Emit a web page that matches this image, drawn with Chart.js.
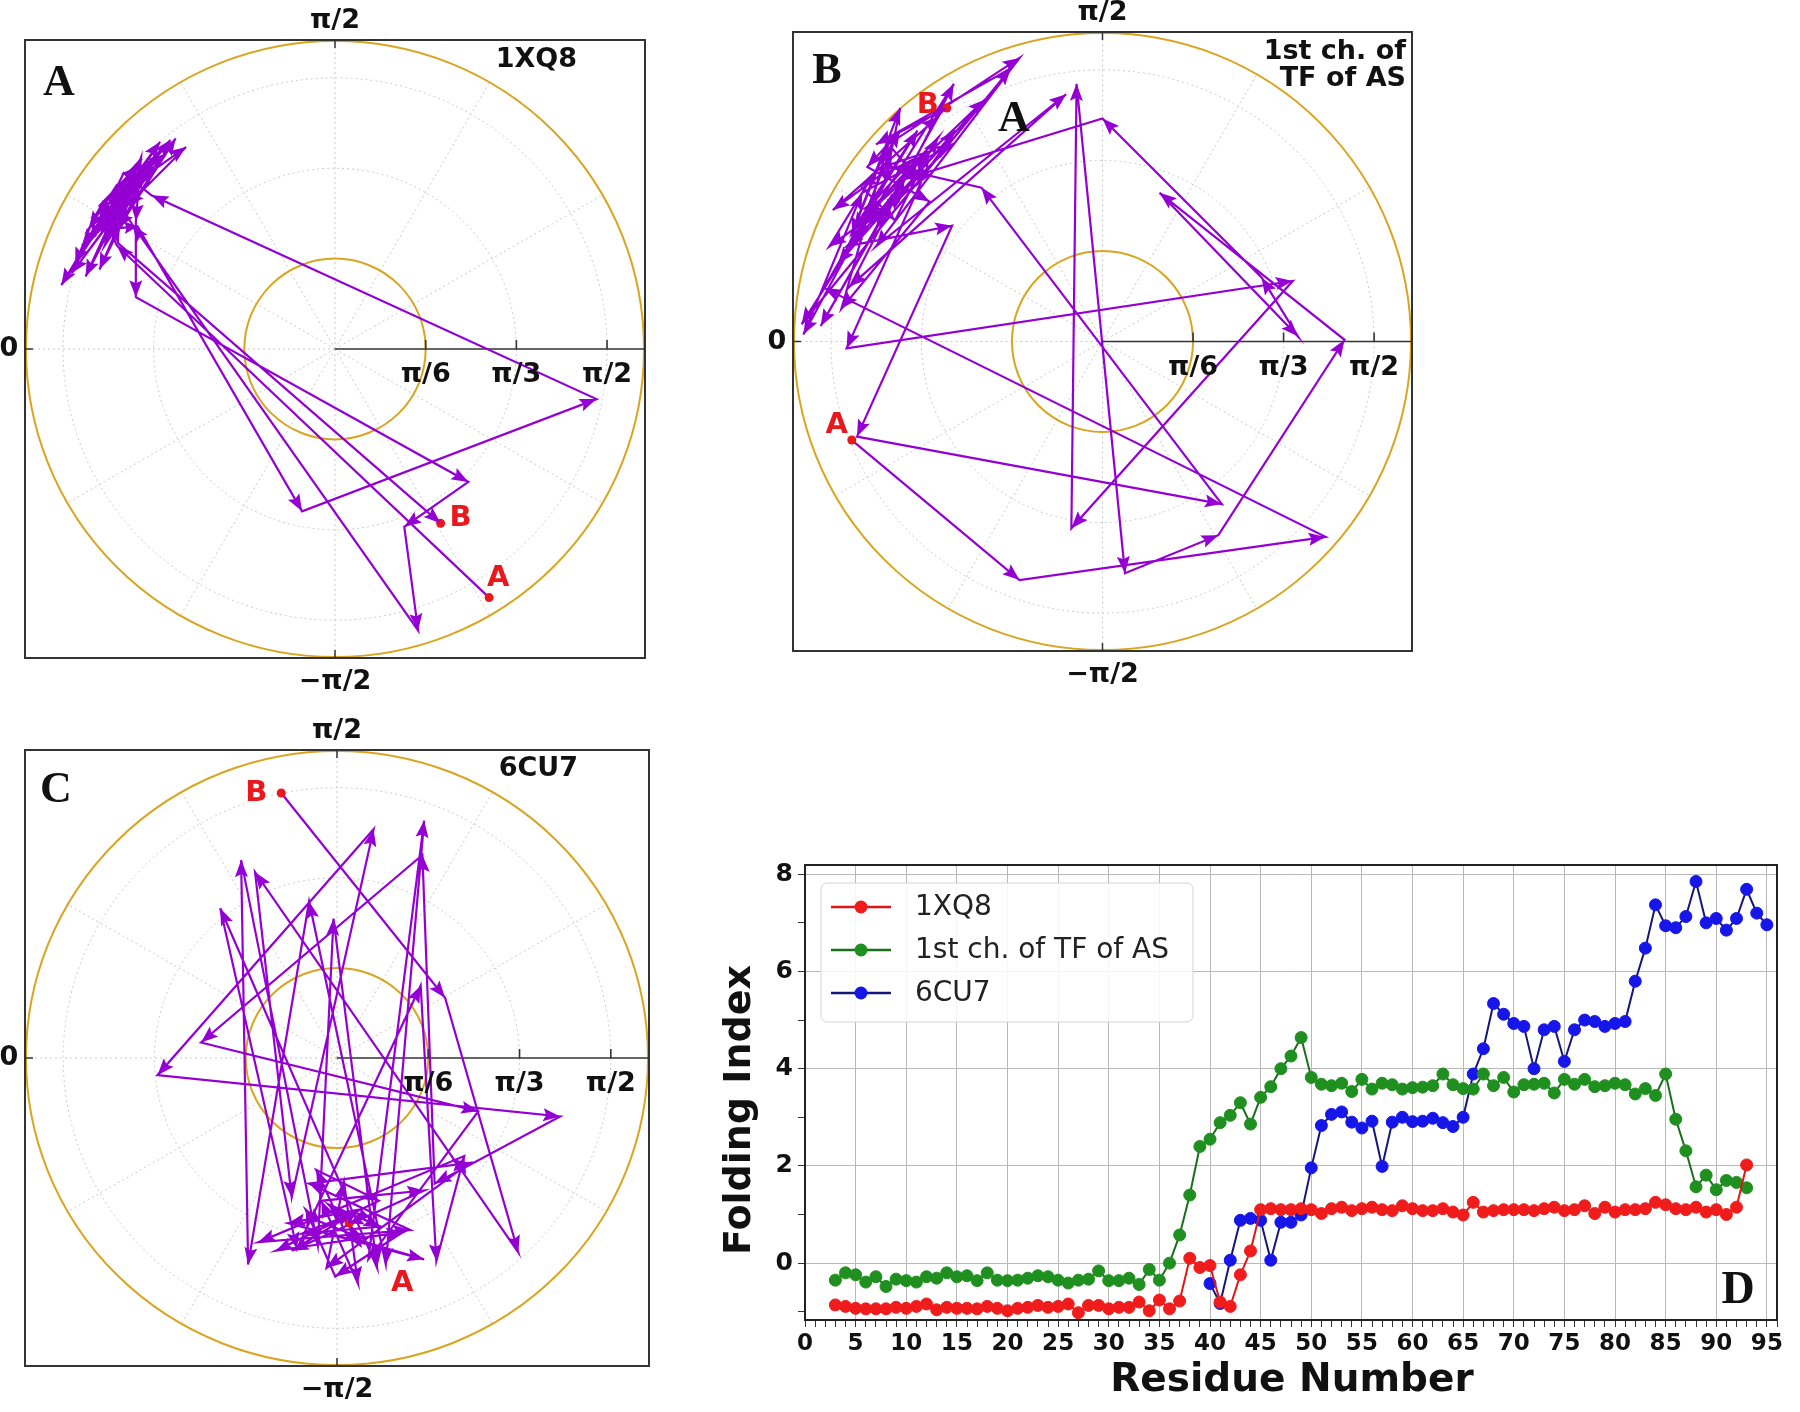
<!DOCTYPE html>
<html><head><meta charset="utf-8">
<script src="https://cdn.jsdelivr.net/npm/chart.js@4.4.1/dist/chart.umd.min.js"></script>
<style>
html,body{margin:0;padding:0;background:#fff;}
body{width:1800px;height:1412px;position:relative;overflow:hidden;}
canvas{position:absolute;}
</style></head><body>
<canvas id="pA" width="700" height="710" style="left:0px;top:0px"></canvas>
<canvas id="pB" width="700" height="700" style="left:750px;top:0px"></canvas>
<canvas id="pC" width="700" height="700" style="left:0px;top:712px"></canvas>
<canvas id="pD" width="1100" height="572" style="left:700px;top:840px"></canvas>
<script>
// ---------------- DATA ----------------
// polar panels: radial limit and radial tick values (radians)
const R_MAX = 1.79;
const radialTicks = [Math.PI/6, Math.PI/3, Math.PI/2];
const radialTickLabels = ['π/6', 'π/3', 'π/2'];

// Panel A (1XQ8) trajectory, cartesian components of polar points (radians)
const trajA_x = [0.89,-1.26,-1.36,-1.14,-1.33,-0.95,-1.22,-1.46,-1.09,-1.39,-1.58,-1.28,-1.01,-1.24,-1.44,-1.17,-0.86,-1.20,-1.36,-1.07,-1.30,-1.12,-1.15,-1.15,0.77,0.40,0.48,-1.17,-1.28,-0.98,-1.39,-1.50,-1.19,-1.33,-0.92,-1.25,-1.14,-0.19,1.51,-1.06,-1.22,-1.41,-1.04,-1.29,-1.52,-1.22,-1.30,-1.10,-1.35,-1.18,-1.28,-1.05,-1.38,-1.15,-1.26,-1.42,-1.12,-1.32,-1.25,0.61];
const trajA_y = [-1.44,0.60,0.83,1.06,0.74,1.21,0.93,0.60,1.02,0.69,0.37,0.83,1.20,0.86,0.42,0.95,1.17,0.83,0.46,1.06,0.65,1.11,0.74,0.30,-0.77,-1.03,-1.63,0.72,0.90,1.13,0.77,0.49,1.00,0.60,1.22,0.70,0.71,-0.94,-0.29,0.89,1.02,0.63,1.11,0.75,0.44,0.84,0.80,1.00,0.68,0.98,0.72,1.05,0.78,0.88,0.95,0.70,0.97,0.86,0.61,-1.01];

// Panel B (1st ch. of TF of AS)
const trajB_x = [-1.45,-0.48,1.29,-1.61,-1.31,-1.07,-1.44,-1.17,-1.26,-1.73,-1.39,-0.87,-1.48,-0.87,-1.42,0.69,-0.70,-1.22,-1.56,-0.95,-1.31,-1.63,-1.14,-0.68,-1.26,-1.35,-1.10,-1.40,-1.20,-1.00,-1.30,-1.45,-1.15,-0.95,-1.38,-1.22,-1.05,-1.48,1.10,-0.18,-0.15,0.13,0.67,1.40,0.33,1.13,0.92,0.00,-1.14,-1.39,-1.02,-1.53,-0.85,-1.07,-1.58,-1.17,-1.36,-1.00,-1.51,-1.24,-0.48,-1.31,-0.21,-1.46,-0.86,-1.74,-0.53,-1.31,-0.90];
const trajB_y = [-0.57,-1.38,-1.13,0.31,0.83,1.22,0.65,1.35,0.91,0.04,0.86,1.14,0.55,0.67,-0.55,-0.94,0.89,1.01,0.76,1.30,0.65,0.09,0.96,1.40,0.76,0.78,1.05,0.90,0.70,1.10,1.00,0.62,0.85,1.18,0.72,1.12,0.92,-0.04,0.35,-1.08,1.49,-1.34,-1.12,0.01,0.86,0.03,0.37,1.29,0.94,0.71,1.09,0.45,1.22,0.91,0.55,1.22,1.01,0.81,0.19,1.14,1.64,0.55,1.43,0.32,1.49,0.10,1.58,1.14,1.35];

// Panel C (6CU7)
const trajC_x = [-0.32,0.62,1.04,-0.47,-0.26,0.21,-1.03,1.28,0.56,0.49,-0.78,0.81,0.18,0.50,0.28,-0.16,-0.51,-0.55,-0.11,-0.02,0.23,-0.67,-0.23,0.48,0.57,0.73,-0.45,0.42,-0.16,0.76,-0.06,0.04,0.12,-0.09,0.50,-0.26,0.13,-0.28,0.50,0.06,-0.12,0.24,-0.35,0.38,-0.01,-0.18,-0.10,0.15,-0.05,0.25,-0.20,0.10,0.18,0.07];
const trajC_y = [1.54,0.35,-1.13,1.08,-0.81,1.33,-0.10,-0.34,-0.73,1.18,0.09,-0.31,-1.17,1.38,-1.20,0.91,-1.20,1.15,-1.09,0.81,-1.22,0.87,-1.11,0.42,-1.18,-0.57,-1.07,-1.00,-0.73,-0.61,-1.22,-0.72,-1.31,-0.83,-0.77,-1.12,-0.88,-0.96,-1.17,-1.04,-0.65,-0.83,-1.12,-1.01,-1.27,-0.88,-0.95,-1.05,-0.85,-0.98,-1.02,-0.90,-0.92,-0.96];

// Panel D: folding index per residue
const residues1XQ8 = [3,4,5,6,7,8,9,10,11,12,13,14,15,16,17,18,19,20,21,22,23,24,25,26,27,28,29,30,31,32,33,34,35,36,37,38,39,40,41,42,43,44,45,46,47,48,49,50,51,52,53,54,55,56,57,58,59,60,61,62,63,64,65,66,67,68,69,70,71,72,73,74,75,76,77,78,79,80,81,82,83,84,85,86,87,88,89,90,91,92,93];
const fi1XQ8 = [-0.86,-0.89,-0.93,-0.94,-0.94,-0.94,-0.91,-0.93,-0.89,-0.84,-0.96,-0.91,-0.93,-0.93,-0.94,-0.89,-0.93,-0.98,-0.93,-0.91,-0.87,-0.91,-0.89,-0.84,-1.02,-0.87,-0.87,-0.94,-0.91,-0.91,-0.80,-0.98,-0.76,-0.94,-0.78,0.10,-0.09,-0.05,-0.80,-0.89,-0.24,0.25,1.10,1.12,1.10,1.10,1.12,1.10,1.02,1.12,1.15,1.08,1.12,1.15,1.10,1.08,1.18,1.12,1.08,1.08,1.12,1.05,0.99,1.25,1.05,1.08,1.10,1.10,1.10,1.08,1.12,1.15,1.08,1.10,1.18,1.02,1.15,1.05,1.10,1.10,1.12,1.25,1.20,1.12,1.10,1.15,1.05,1.10,1.00,1.15,2.02];
const residuesTFAS = [3,4,5,6,7,8,9,10,11,12,13,14,15,16,17,18,19,20,21,22,23,24,25,26,27,28,29,30,31,32,33,34,35,36,37,38,39,40,41,42,43,44,45,46,47,48,49,50,51,52,53,54,55,56,57,58,59,60,61,62,63,64,65,66,67,68,69,70,71,72,73,74,75,76,77,78,79,80,81,82,83,84,85,86,87,88,89,90,91,92,93];
const fiTFAS = [-0.35,-0.20,-0.24,-0.39,-0.28,-0.48,-0.33,-0.36,-0.39,-0.28,-0.31,-0.20,-0.28,-0.26,-0.36,-0.20,-0.35,-0.36,-0.35,-0.31,-0.26,-0.28,-0.35,-0.41,-0.35,-0.33,-0.16,-0.36,-0.36,-0.31,-0.44,-0.13,-0.35,0.00,0.58,1.40,2.40,2.55,2.89,3.04,3.30,2.86,3.41,3.63,4.00,4.26,4.64,3.82,3.68,3.65,3.70,3.53,3.78,3.58,3.70,3.67,3.58,3.61,3.62,3.65,3.89,3.67,3.59,3.58,3.89,3.65,3.82,3.52,3.67,3.68,3.70,3.50,3.78,3.68,3.78,3.63,3.65,3.70,3.67,3.48,3.59,3.45,3.89,2.96,2.31,1.57,1.81,1.51,1.70,1.66,1.55];
const residues6CU7 = [40,41,42,43,44,45,46,47,48,49,50,51,52,53,54,55,56,57,58,59,60,61,62,63,64,65,66,67,68,69,70,71,72,73,74,75,76,77,78,79,80,81,82,83,84,85,86,87,88,89,90,91,92,93,94,95];
const fi6CU7 = [-0.42,-0.83,0.06,0.88,0.92,0.88,0.06,0.84,0.84,0.99,1.96,2.83,3.06,3.11,2.90,2.78,2.92,1.99,2.90,3.00,2.91,2.92,2.98,2.89,2.81,3.00,3.89,4.41,5.34,5.12,4.93,4.87,4.00,4.80,4.87,4.15,4.80,5.00,4.97,4.87,4.93,4.97,5.80,6.48,7.37,6.94,6.90,7.13,7.85,7.00,7.09,6.85,7.09,7.69,7.20,6.96];
const seriesNames = ['1XQ8', '1st ch. of TF of AS', '6CU7'];

// ---------------- STYLE ----------------
const FONT = '"DejaVu Sans", "Liberation Sans", sans-serif';
const SERIF = '"Liberation Serif", "DejaVu Serif", serif';
const PURPLE = '#9400D3';
const GOLD = '#D9A521';
const RED = '#e8181c';

function arrowHead(ctx, x0, y0, x1, y1, len, hw) {
  const dx = x1 - x0, dy = y1 - y0, d = Math.hypot(dx, dy);
  if (d < 2) return;
  const ux = dx / d, uy = dy / d;
  const L = Math.min(len, d * 0.7);
  const bx = x1 - ux * L, by = y1 - uy * L;
  const nx = x1 - ux * L * 0.82, ny = y1 - uy * L * 0.82;
  ctx.beginPath();
  ctx.moveTo(x1, y1);
  ctx.lineTo(bx - uy * hw, by + ux * hw);
  ctx.lineTo(nx, ny);
  ctx.lineTo(bx + uy * hw, by - ux * hw);
  ctx.closePath();
  ctx.fill();
}

function polarDecor(o) {
  return {
    id: 'polarDecor',
    beforeDatasetsDraw(chart) {
      const ctx = chart.ctx, a = chart.chartArea, sx = chart.scales.x, sy = chart.scales.y;
      const cx = sx.getPixelForValue(0), cy = sy.getPixelForValue(0);
      const rx = r => sx.getPixelForValue(r) - cx, ry = r => cy - sy.getPixelForValue(r);
      ctx.save();
      ctx.strokeStyle = '#c9c9c9'; ctx.lineWidth = 1; ctx.setLineDash([2, 3]);
      radialTicks.forEach(r => { ctx.beginPath(); ctx.ellipse(cx, cy, rx(r), ry(r), 0, 0, Math.PI * 2); ctx.stroke(); });
      for (let k = 1; k < 12; k++) {
        const t = k * Math.PI / 6;
        ctx.beginPath(); ctx.moveTo(cx, cy);
        ctx.lineTo(cx + rx(R_MAX) * Math.cos(t), cy - ry(R_MAX) * Math.sin(t)); ctx.stroke();
      }
      ctx.setLineDash([]);
      ctx.strokeStyle = GOLD; ctx.lineWidth = 2;
      [R_MAX, Math.PI / 6].forEach(r => { ctx.beginPath(); ctx.ellipse(cx, cy, rx(r) - (r === R_MAX ? 1 : 0), ry(r) - (r === R_MAX ? 1 : 0), 0, 0, Math.PI * 2); ctx.stroke(); });
      ctx.strokeStyle = '#333'; ctx.lineWidth = 1.6;
      ctx.beginPath(); ctx.moveTo(cx, cy); ctx.lineTo(a.right, cy); ctx.stroke();
      radialTicks.forEach(r => { ctx.beginPath(); ctx.moveTo(cx + rx(r), cy); ctx.lineTo(cx + rx(r), cy - 9); ctx.stroke(); });
      ctx.restore();
    },
    afterDatasetsDraw(chart) {
      const ctx = chart.ctx, a = chart.chartArea, sx = chart.scales.x, sy = chart.scales.y;
      const cx = sx.getPixelForValue(0), cy = sy.getPixelForValue(0);
      const rx = r => sx.getPixelForValue(r) - cx;
      ctx.save();
      // arrowheads
      const pts = chart.getDatasetMeta(1).data;
      ctx.fillStyle = PURPLE;
      for (let i = 1; i < pts.length; i++) arrowHead(ctx, pts[i - 1].x, pts[i - 1].y, pts[i].x, pts[i].y, 17, 6.5);
      // frame
      ctx.strokeStyle = '#333'; ctx.lineWidth = 2;
      ctx.strokeRect(a.left, a.top, a.width, a.height);
      ctx.lineWidth = 1.5;
      ctx.beginPath();
      ctx.moveTo(cx, a.top); ctx.lineTo(cx, a.top + 8);
      ctx.moveTo(cx, a.bottom); ctx.lineTo(cx, a.bottom - 8);
      ctx.moveTo(a.left, cy); ctx.lineTo(a.left + 8, cy);
      ctx.stroke();
      // angular labels
      ctx.fillStyle = '#111'; ctx.font = 'bold 27px ' + FONT;
      ctx.textAlign = 'center'; ctx.textBaseline = 'middle';
      ctx.fillText('π/2', cx, a.top - 19);
      ctx.fillText('−π/2', cx, a.bottom + 24);
      ctx.fillText('0', a.left - 16, cy);
      radialTicks.forEach((r, i) => ctx.fillText(radialTickLabels[i], cx + rx(r), cy + 26));
      // title
      ctx.textAlign = 'right';
      o.title.forEach((t, i) => ctx.fillText(t, a.right - o.titleDx, a.top + o.titleDy + i * 27));
      // panel letter
      ctx.textAlign = 'center';
      ctx.font = 'bold 44px ' + SERIF;
      ctx.fillText(o.letter, a.left + o.letterPos[0], a.top + o.letterPos[1]);
      if (o.extra) ctx.fillText(o.extra.text, a.left + o.extra.pos[0], a.top + o.extra.pos[1]);
      // start/end labels
      const ends = chart.getDatasetMeta(0).data;
      ctx.fillStyle = RED; ctx.font = 'bold 29px ' + FONT;
      o.endLabels.forEach((l, i) => ctx.fillText(l.text, ends[i].x + l.dx, ends[i].y + l.dy));
      ctx.restore();
    }
  };
}

function polarChart(id, pad, xs, ys, o) {
  const pts = xs.map((x, i) => ({ x: x, y: ys[i] }));
  const ends = [pts[0], pts[pts.length - 1]];
  return new Chart(document.getElementById(id), {
    type: 'scatter',
    data: { datasets: [
      { data: ends, showLine: false, pointRadius: 4.5, pointBackgroundColor: RED, pointBorderColor: RED, pointBorderWidth: 0 },
      { data: pts, showLine: true, borderColor: PURPLE, borderWidth: 2.2, pointRadius: 0, fill: false, tension: 0 }
    ] },
    options: {
      responsive: false, animation: false, devicePixelRatio: 1, events: [],
      layout: { padding: pad },
      scales: {
        x: { type: 'linear', min: -R_MAX, max: R_MAX, display: false },
        y: { type: 'linear', min: -R_MAX, max: R_MAX, display: false }
      },
      plugins: { legend: { display: false }, tooltip: { enabled: false } }
    },
    plugins: [polarDecor(o)]
  });
}

polarChart('pA', { left: 25, top: 40, right: 55, bottom: 52 }, trajA_x, trajA_y, {
  title: ['1XQ8'], titleDx: 68, titleDy: 20, letter: 'A', letterPos: [34, 44],
  endLabels: [{ text: 'A', dx: 9, dy: -19 }, { text: 'B', dx: 20, dy: -5 }]
});
polarChart('pB', { left: 43, top: 32, right: 38, bottom: 49 }, trajB_x, trajB_y, {
  title: ['1st ch. of', 'TF of AS'], titleDx: 6, titleDy: 20, letter: 'B', letterPos: [34, 40],
  extra: { text: 'A', pos: [221, 88] },
  endLabels: [{ text: 'A', dx: -15, dy: -15 }, { text: 'B', dx: -19, dy: -3 }]
});
polarChart('pC', { left: 25, top: 38, right: 51, bottom: 46 }, trajC_x, trajC_y, {
  title: ['6CU7'], titleDx: 71, titleDy: 19, letter: 'C', letterPos: [31, 41],
  endLabels: [{ text: 'B', dx: -25, dy: 0 }, { text: 'A', dx: 53, dy: 60 }]
});

// ---------------- Panel D ----------------
const colD = [
  { line: '#e01515', mark: '#f01c1c' },
  { line: '#1b6e1b', mark: '#1f8f1f' },
  { line: '#16167a', mark: '#1616e8' }
];
const seriesRes = [residues1XQ8, residuesTFAS, residues6CU7];
const seriesVal = [fi1XQ8, fiTFAS, fi6CU7];

const dDecor = {
  id: 'dDecor',
  afterDraw(chart) {
    const ctx = chart.ctx, a = chart.chartArea;
    ctx.save();
    ctx.strokeStyle = '#222'; ctx.lineWidth = 2;
    ctx.strokeRect(a.left, a.top, a.width, a.height);
    // legend
    const bx = 121, by = 43, bw = 372, bh = 139;
    ctx.fillStyle = 'rgba(255,255,255,0.85)'; ctx.strokeStyle = '#d4d4d4'; ctx.lineWidth = 1;
    ctx.beginPath(); ctx.roundRect(bx, by, bw, bh, 6); ctx.fill(); ctx.stroke();
    const ys = [67, 110, 153];
    seriesNames.forEach((n, i) => {
      ctx.strokeStyle = colD[i].line; ctx.lineWidth = 2.5;
      ctx.beginPath(); ctx.moveTo(131, ys[i]); ctx.lineTo(191, ys[i]); ctx.stroke();
      ctx.fillStyle = colD[i].mark;
      ctx.beginPath(); ctx.arc(161, ys[i], 6.5, 0, Math.PI * 2); ctx.fill();
      ctx.fillStyle = '#222'; ctx.font = '28px ' + FONT; ctx.textAlign = 'left'; ctx.textBaseline = 'middle';
      ctx.fillText(n, 215, ys[i] + 1);
    });
    // axis titles
    ctx.fillStyle = '#111'; ctx.textAlign = 'center'; ctx.textBaseline = 'middle';
    ctx.font = 'bold 39px ' + FONT;
    ctx.fillText('Residue Number', 592, 541);
    ctx.save(); ctx.translate(40, 270); ctx.rotate(-Math.PI / 2);
    ctx.font = 'bold 38px ' + FONT; ctx.fillText('Folding Index', 0, 0); ctx.restore();
    ctx.font = 'bold 46px ' + SERIF; ctx.fillText('D', 1038, 451);
    ctx.restore();
  }
};

new Chart(document.getElementById('pD'), {
  type: 'line',
  data: { datasets: seriesNames.map((n, i) => ({
    label: n,
    data: seriesRes[i].map((r, k) => ({ x: r, y: seriesVal[i][k] })),
    borderColor: colD[i].line, borderWidth: 2,
    pointRadius: 6, pointBackgroundColor: colD[i].mark, pointBorderColor: colD[i].mark, pointBorderWidth: 1,
    fill: false, tension: 0
  })) },
  options: {
    responsive: false, animation: false, devicePixelRatio: 1, events: [],
    layout: { padding: { left: 0, top: 25, right: 23, bottom: 0 } },
    scales: {
      x: {
        type: 'linear', min: 0, max: 96,
        afterFit: s => { s.height = 92; },
        ticks: { stepSize: 1, maxTicksLimit: 200, autoSkip: false, maxRotation: 0, minRotation: 0, includeBounds: false,
          callback: v => (v % 5 === 0 ? String(v) : ''), color: '#111', padding: 3,
          font: { family: FONT, size: 23, weight: 'bold' } },
        grid: { color: c => (c.tick && c.tick.value % 5 === 0) ? '#b8b8b8' : 'rgba(0,0,0,0)', tickColor: '#333', tickLength: 7, lineWidth: 1 },
        border: { color: '#222', width: 2 }
      },
      y: {
        type: 'linear', min: -1.17, max: 8.19,
        afterFit: s => { s.width = 105; },
        ticks: { stepSize: 1, maxTicksLimit: 200, includeBounds: false,
          callback: v => (v % 2 === 0 ? String(v) : ''), color: '#111', padding: 5,
          font: { family: FONT, size: 25, weight: 'bold' } },
        grid: { color: c => (c.tick && c.tick.value % 2 === 0) ? '#b8b8b8' : 'rgba(0,0,0,0)', tickColor: '#333', tickLength: 7, lineWidth: 1 },
        border: { color: '#222', width: 2 }
      }
    },
    plugins: { legend: { display: false }, tooltip: { enabled: false } }
  },
  plugins: [dDecor]
});
</script>
</body></html>
